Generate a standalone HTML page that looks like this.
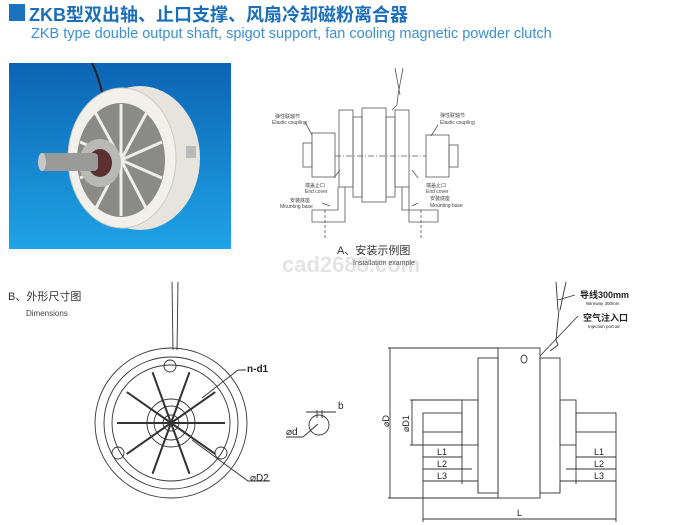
<!DOCTYPE html>
<html><head><meta charset="utf-8"><style>
body{margin:0;width:700px;height:525px;background:#fff;overflow:hidden;position:relative;font-family:"Liberation Sans","Noto Sans CJK SC",sans-serif}
.t{position:absolute;white-space:nowrap}
</style></head><body>
<div class="t" style="left:9px;top:4px;width:16px;height:17px;background:#1b72bd"></div>
<div class="t" style="left:29px;top:1px;font-size:18px;font-weight:bold;color:#1b6fb8">ZKB型双出轴、止口支撑、风扇冷却磁粉离合器</div>
<div class="t" style="left:31px;top:26px;font-size:14.5px;color:#3b8fd4">ZKB type double output shaft, spigot support, fan cooling magnetic powder clutch</div>
<div class="t" style="left:9px;top:63px;width:222px;height:186px;background:linear-gradient(180deg,#0c64b4,#1fa3e6)"></div>
<svg class="t" style="left:0;top:0" width="700" height="525" viewBox="0 0 700 525">
<g>
<path d="M92 63 Q98 75 102 92" stroke="#222" stroke-width="2" fill="none"/>
<ellipse cx="140" cy="158" rx="60" ry="72" fill="#e6e4dc"/>
<ellipse cx="122" cy="158" rx="54" ry="70" fill="#f2f0ea" stroke="#cfcac0"/>
<ellipse cx="121" cy="160" rx="44" ry="57" fill="#8a8a86"/>
<g stroke="#eeeeea" stroke-width="3">
<line x1="121" y1="160" x2="121" y2="104"/><line x1="121" y1="160" x2="147" y2="112"/><line x1="121" y1="160" x2="162" y2="142"/><line x1="121" y1="160" x2="162" y2="178"/><line x1="121" y1="160" x2="147" y2="210"/><line x1="121" y1="160" x2="121" y2="216"/><line x1="121" y1="160" x2="95" y2="210"/><line x1="121" y1="160" x2="80" y2="178"/><line x1="121" y1="160" x2="80" y2="142"/><line x1="121" y1="160" x2="95" y2="112"/>
</g>
<ellipse cx="100" cy="163" rx="21" ry="24" fill="#b9b9b6"/>
<ellipse cx="100" cy="163" rx="12" ry="14" fill="#5a3030"/>
<rect x="40" y="153" width="58" height="18" rx="4" fill="#9a9a98"/>
<ellipse cx="42" cy="162" rx="4" ry="9" fill="#c8c8c6"/>
<rect x="186" y="146" width="10" height="12" fill="#bbb"/>
</g>
<!-- installation -->
<g stroke="#555" stroke-width="0.8" fill="none">
<line x1="395" y1="68" x2="400" y2="95"/><line x1="403" y1="68" x2="398" y2="95"/>
<path d="M398 95 L397 105 L392 110"/>
<rect x="362" y="108" width="24" height="94" fill="#fff"/>
<rect x="339" y="110" width="14" height="77"/><rect x="395" y="110" width="14" height="77"/>
<rect x="353" y="117" width="9" height="80"/><rect x="386" y="117" width="9" height="80"/>
<rect x="312" y="133" width="23" height="44"/><rect x="303" y="143" width="9" height="24"/>
<rect x="426" y="135" width="23" height="42"/><rect x="449" y="145" width="9" height="22"/>
<line x1="335" y1="156" x2="426" y2="156" stroke-dasharray="6 2 1 2"/>
<path d="M345 187 L345 222 L312 222 L312 210 L338 210 L338 187"/>
<path d="M402 187 L402 210 L438 210 L438 222 L409 222 L409 187"/>
<line x1="325" y1="210" x2="325" y2="238" stroke-dasharray="3 2"/><line x1="421" y1="210" x2="421" y2="238" stroke-dasharray="3 2"/>
<line x1="312" y1="135" x2="305" y2="122"/><line x1="431" y1="136" x2="438" y2="125"/>
<line x1="334" y1="178" x2="340" y2="170"/><line x1="418" y1="178" x2="412" y2="170"/>
<line x1="322" y1="203" x2="330" y2="206"/><line x1="418" y1="203" x2="412" y2="206"/>
</g>
<g font-size="5" fill="#444">
<text x="275" y="118">弹性联轴节</text><text x="272" y="124">Elastic coupling</text>
<text x="440" y="117">弹性联轴节</text><text x="440" y="124">Elastic coupling</text>
<text x="305" y="187">端盖止口</text><text x="305" y="193">End cover</text>
<text x="426" y="187">端盖止口</text><text x="426" y="193">End cover</text>
<text x="290" y="202">安装底座</text><text x="280" y="208">Mounting base</text>
<text x="430" y="200">安装底座</text><text x="430" y="207">Mounting base</text>
</g>
<text x="282" y="272" font-size="22" font-weight="bold" fill="#e4e4e4">cad2688.com</text>
<text x="337" y="254" font-size="11" fill="#333">A、安装示例图</text>
<text x="353" y="265" font-size="7" fill="#555">Installation example</text>
<!-- front view -->
<g stroke="#333" stroke-width="0.9" fill="none">
<line x1="172" y1="282" x2="173" y2="350"/><line x1="178" y1="282" x2="177" y2="350"/>
<ellipse cx="171" cy="423" rx="76" ry="75"/>
<ellipse cx="171" cy="423" rx="67" ry="66"/>
<ellipse cx="171" cy="423" rx="59" ry="58"/>
<circle cx="171" cy="423" r="24"/><circle cx="171" cy="423" r="17"/><circle cx="171" cy="423" r="8"/>
<g stroke-width="2">
<line x1="171" y1="423" x2="171" y2="369" transform="rotate(20 171 423)"/>
<line x1="171" y1="423" x2="171" y2="369" transform="rotate(55 171 423)"/>
<line x1="171" y1="423" x2="171" y2="369" transform="rotate(90 171 423)"/>
<line x1="171" y1="423" x2="171" y2="369" transform="rotate(125 171 423)"/>
<line x1="171" y1="423" x2="171" y2="369" transform="rotate(160 171 423)"/>
<line x1="171" y1="423" x2="171" y2="369" transform="rotate(200 171 423)"/>
<line x1="171" y1="423" x2="171" y2="369" transform="rotate(235 171 423)"/>
<line x1="171" y1="423" x2="171" y2="369" transform="rotate(270 171 423)"/>
<line x1="171" y1="423" x2="171" y2="369" transform="rotate(305 171 423)"/>
<line x1="171" y1="423" x2="171" y2="369" transform="rotate(340 171 423)"/>
</g>
<circle cx="170" cy="366" r="6"/><circle cx="118" cy="453" r="6"/><circle cx="221" cy="453" r="6"/>
<path d="M202 398 L238 370 L246 370"/>
<path d="M192 440 L248 481 L270 481"/>
<circle cx="319" cy="425" r="10"/>
<path d="M303 437 L318 424"/><line x1="286" y1="437" x2="303" y2="437"/>
<line x1="317" y1="410" x2="317" y2="418"/><line x1="322" y1="410" x2="322" y2="418"/><line x1="306" y1="412" x2="336" y2="412"/>
</g>
<g font-size="10" fill="#222">
<text x="247" y="372" font-weight="bold">n-d1</text>
<text x="250" y="481">⌀D2</text>
<text x="286" y="435">⌀d</text>
<text x="338" y="409">b</text>
</g>
<text x="8" y="300" font-size="11" fill="#333">B、外形尺寸图</text>
<text x="26" y="316" font-size="8" fill="#444">Dimensions</text>
<!-- side view -->
<g stroke="#333" stroke-width="0.9" fill="none">
<line x1="556" y1="282" x2="558" y2="310"/><line x1="566" y1="282" x2="560" y2="310"/>
<path d="M559 310 L556 340 L558 345 L550 351"/>
<line x1="558" y1="300" x2="575" y2="295"/><line x1="540" y1="356" x2="578" y2="316"/>
<rect x="498" y="348" width="42" height="150" fill="#fff"/>
<rect x="478" y="358" width="20" height="135"/><rect x="540" y="358" width="20" height="135"/>
<rect x="462" y="400" width="16" height="45"/><rect x="560" y="400" width="16" height="45"/>
<rect x="423" y="413" width="39" height="19"/><rect x="576" y="413" width="40" height="19"/>
<line x1="388" y1="348" x2="498" y2="348"/><line x1="388" y1="498" x2="498" y2="498"/><line x1="390" y1="348" x2="390" y2="498"/>
<line x1="410" y1="400" x2="462" y2="400"/><line x1="410" y1="445" x2="462" y2="445"/><line x1="412" y1="400" x2="412" y2="445"/>
<line x1="423" y1="432" x2="423" y2="522"/><line x1="616" y1="432" x2="616" y2="522"/><line x1="423" y1="519" x2="616" y2="519"/>
<line x1="462" y1="445" x2="462" y2="484"/><line x1="478" y1="493" x2="478" y2="484"/><line x1="576" y1="445" x2="576" y2="484"/><line x1="560" y1="493" x2="560" y2="484"/>
<line x1="423" y1="457" x2="462" y2="457"/><line x1="423" y1="469" x2="472" y2="469"/><line x1="423" y1="481" x2="478" y2="481"/>
<line x1="576" y1="457" x2="616" y2="457"/><line x1="566" y1="469" x2="616" y2="469"/><line x1="560" y1="481" x2="616" y2="481"/>
<ellipse cx="524" cy="359" rx="3" ry="4"/>
</g>
<g font-size="9" fill="#222">
<text x="580" y="298" font-weight="bold">导线300mm</text><text x="586" y="305" font-size="4.5">Wireway 300mm</text>
<text x="583" y="321" font-weight="bold">空气注入口</text><text x="588" y="328" font-size="4.5">Injection port air</text>
<text x="437" y="455">L1</text><text x="437" y="467">L2</text><text x="437" y="479">L3</text>
<text x="594" y="455">L1</text><text x="594" y="467">L2</text><text x="594" y="479">L3</text>
<text x="517" y="516">L</text>
<text transform="translate(389 427) rotate(-90)">⌀D</text>
<text transform="translate(409 432) rotate(-90)">⌀D1</text>
</g>
</svg>
</body></html>
